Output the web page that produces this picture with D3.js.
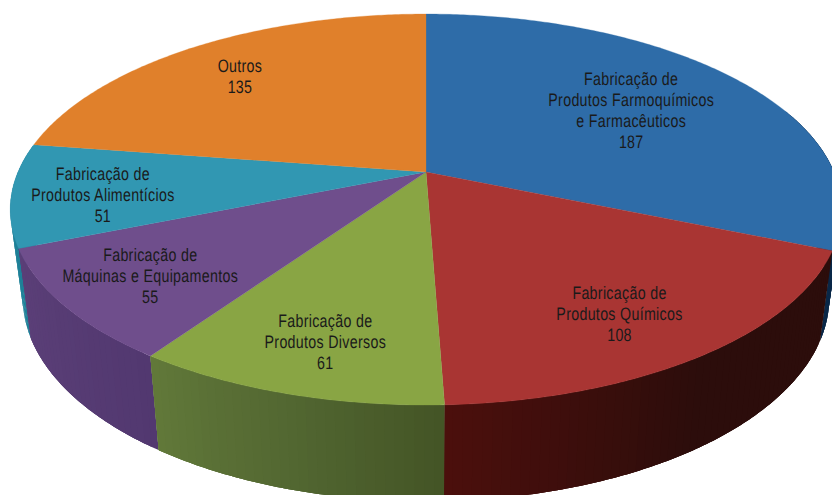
<!DOCTYPE html>
<html><head><meta charset="utf-8">
<script src="https://cdn.jsdelivr.net/npm/d3@7/dist/d3.min.js"></script>
<style>html,body{margin:0;padding:0;background:#fff}svg{display:block}text{text-rendering:geometricPrecision}</style>
</head><body><svg id="c" width="832" height="495"></svg>
<script>
const categories = [
  ["Fabricação de","Produtos Farmoquímicos","e Farmacêuticos"],
  ["Fabricação de","Produtos Químicos"],
  ["Fabricação de","Produtos Diversos"],
  ["Fabricação de","Máquinas e Equipamentos"],
  ["Fabricação de","Produtos Alimentícios"],
  ["Outros"]
];
const values = [187,108,61,55,51,135];
const topColors = ["#2e6ca8","#a93533","#89a544","#6f4e8c","#3197b2","#e0802b"];
const wallStart = ["#0a2848","#2c0d0b","#445526","#523870","#1f8098","#a05c1c"];
const wallMid   = ["#0a2848","#2c0d0b","#536832","#573c74","#1f8098","#a05c1c"];
const wallEnd   = ["#0a2848","#4c0f0c","#62793a","#5b3f78","#1f8098","#a05c1c"];
const labelRadius = [0.64,0.778,0.798,0.789,0.783,0.753];
const labelTurn = [0.6,2.5,-1,-0.5,-1.9,-1.4];
const wallOrder = [0,4,3,1,2];

const W=832,H=495, CX=426, CY=172, A=408, B=188.3, K=0.192;
const BOTTOM_CY=258.5, SX=0.97, SY=1.042;
const svg=d3.select("#c");
const pieGen=d3.pie().sort(null).value(d=>d);
const arcs=pieGen(values);

function disc(t,r){return [r*Math.sin(t), r*Math.cos(t)];}
function topPt(t,r=1){const [u,v]=disc(t,r),d=1+K*v;return [CX+A*u/d, CY-B*v/d];}
function botPt(t){const [u,v]=disc(t,1),d=1+K*v;return [CX+SX*A*u/d, BOTTOM_CY-SY*B*v/d];}
const line=d3.line();

// side walls: overlapping strips painted in order, so no seams appear
const gW=svg.append("g");
wallOrder.forEach(i=>{
  const a=arcs[i];
  const color=d3.scaleLinear()
    .domain([a.startAngle,(a.startAngle+a.endAngle)/2,a.endAngle])
    .range([wallStart[i],wallMid[i],wallEnd[i]]).interpolate(d3.interpolateRgb);
  const step=0.02;
  const ts=d3.range(a.startAngle,a.endAngle,step);
  const reverse=(i===4);
  (reverse?ts.slice().reverse():ts).forEach(t0=>{
    const t1=reverse?Math.max(t0-step,a.startAngle):t0;
    const t2=reverse?Math.min(t0+step*0.5,a.endAngle):Math.min(t0+step*3,a.endAngle);
    if(Math.cos(t0)>0.35) return;
    const c=color(t0);
    const samples=d3.range(t1,t2,step/2).concat([t2]);
    gW.append("path")
      .attr("d",line(samples.map(t=>topPt(t)).concat(samples.slice().reverse().map(t=>botPt(t))))+"Z")
      .attr("fill",c);
  });
});

// top face
svg.append("g").selectAll("path").data(arcs).join("path")
  .attr("d",a=>{
    const ts=d3.range(a.startAngle,a.endAngle,0.01).concat([a.endAngle]);
    return line([[CX,CY]].concat(ts.map(t=>topPt(t))))+"Z";
  })
  .attr("fill",(a,i)=>topColors[i])
  .attr("stroke",(a,i)=>topColors[i]).attr("stroke-width",0.3);

// labels: condensed look from a horizontally scaled sans
const LH=21, XS=0.79;
const gL=svg.append("g").attr("font-family","'Liberation Sans',Arimo,sans-serif")
  .attr("font-size",18).attr("letter-spacing",0.4).attr("fill","#1a1a1a").attr("text-anchor","middle");
arcs.forEach((a,i)=>{
  const mid=(a.startAngle+a.endAngle)/2+labelTurn[i]*Math.PI/180;
  const [x,y]=topPt(mid,labelRadius[i]);
  const lines=categories[i].concat([String(values[i])]);
  const t=gL.append("text").attr("transform",`translate(${x},${y}) scale(${XS},1)`);
  lines.forEach((s,j)=>{
    t.append("tspan").attr("x",0).attr("y",(j-(lines.length-1)/2)*LH+6).text(s);
  });
});
</script></body></html>
